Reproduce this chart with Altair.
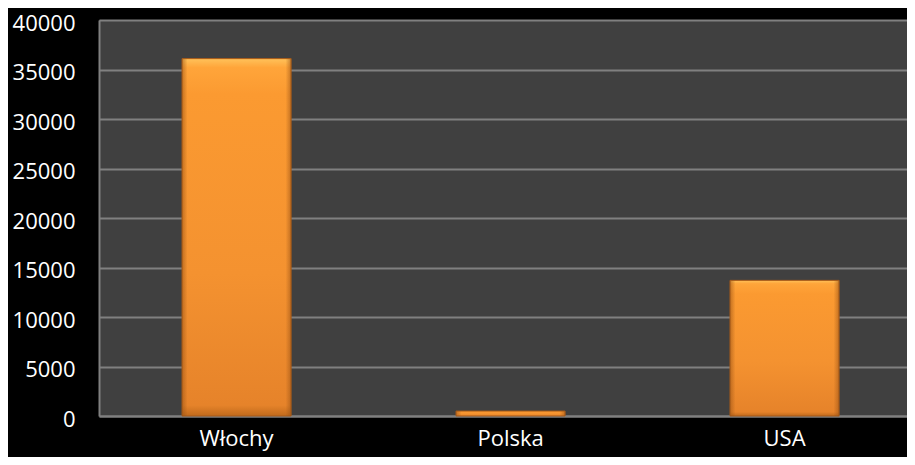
import altair as alt
import pandas as pd

categories = ["Włochy", "Polska", "USA"]
values = [36100, 500, 13700]

df = pd.DataFrame({"kraj": categories, "wartosc": values})

vgrad = alt.Gradient(
    gradient="linear",
    stops=[
        alt.GradientStop(color="#FFC25A", offset=0),
        alt.GradientStop(color="#FFA53A", offset=0.025),
        alt.GradientStop(color="#FB9A31", offset=0.1),
        alt.GradientStop(color="#F49230", offset=0.6),
        alt.GradientStop(color="#E6832A", offset=0.97),
        alt.GradientStop(color="#C06A1C", offset=1),
    ],
    x1=0, x2=0, y1=0, y2=1,
)

hgrad = alt.Gradient(
    gradient="linear",
    stops=[
        alt.GradientStop(color="rgba(150,80,20,0.55)", offset=0),
        alt.GradientStop(color="rgba(150,80,20,0)", offset=0.05),
        alt.GradientStop(color="rgba(150,80,20,0)", offset=0.95),
        alt.GradientStop(color="rgba(150,80,20,0.55)", offset=1),
    ],
    x1=0, x2=1, y1=0, y2=0,
)

x_enc = alt.X(
    "kraj:N",
    sort=categories,
    title=None,
    scale=alt.Scale(paddingInner=0.602, paddingOuter=0.2755, align=0.55),
    axis=alt.Axis(
        labelAngle=0,
        labelColor="white",
        labelFont="Open Sans",
        labelFontSize=22,
        labelPadding=12,
        ticks=False,
        domainColor="#808080",
        domainWidth=2,
        grid=False,
    ),
)

y_enc = alt.Y(
    "wartosc:Q",
    title=None,
    scale=alt.Scale(domain=[0, 40000], nice=False),
    axis=alt.Axis(
        values=list(range(0, 40001, 5000)),
        format="d",
        labelColor="white",
        labelFont="Open Sans",
        labelFontSize=22,
        labelPadding=24,
        labelOffset=3,
        ticks=False,
        domainColor="#808080",
        domainWidth=2,
        gridColor="#808080",
        gridWidth=2,
    ),
)

base = alt.Chart(df).encode(x=x_enc, y=y_enc)

bars = base.mark_bar(fill=vgrad, stroke="#A85A18", strokeWidth=1)
edges = base.mark_bar(fill=hgrad)

chart = (
    alt.layer(bars, edges)
    .properties(
        width=808,
        height=396,
        background="black",
        autosize=alt.AutoSizeParams(type="none"),
        padding={"left": 91, "top": 12, "right": 0, "bottom": 41},
    )
    .configure_view(fill="#404040", stroke=None)
)

chart.save("out.html", embed_options={"renderer": "svg", "actions": False})
